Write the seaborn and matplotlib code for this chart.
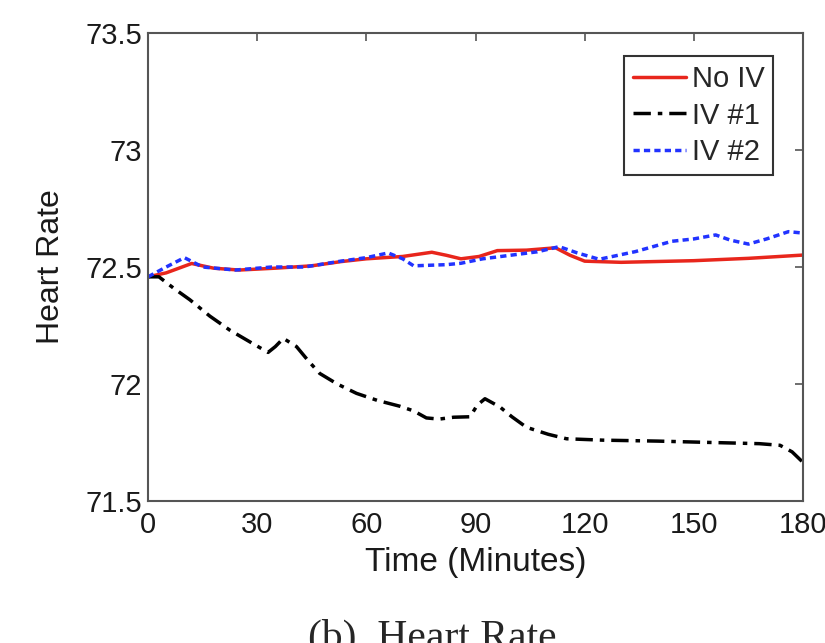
import matplotlib
matplotlib.use('Agg')
import matplotlib.pyplot as plt
import pandas as pd
import seaborn as sns

# values
t_noiv = [0, 5, 12, 18, 25, 35, 45, 53, 60, 70, 78, 82, 86, 91, 96, 104, 112, 116, 120, 130, 150, 165, 180]
hr_noiv = [72.458, 72.475, 72.515, 72.495, 72.487, 72.495, 72.505, 72.523, 72.535, 72.545, 72.563, 72.55,
           72.535, 72.545, 72.57, 72.572, 72.582, 72.55, 72.525, 72.52, 72.527, 72.537, 72.551]

t_iv1 = [0, 3, 7, 11.5, 17, 22.5, 28, 33, 35, 37.2, 40.8, 44, 47.2, 52, 57.3, 63, 69.2, 73, 76.5, 80, 84,
         88.5, 90.5, 92.6, 96.7, 100, 104, 110, 115, 125, 140, 155, 168, 173.7, 177, 180]
hr_iv1 = [72.458, 72.458, 72.41, 72.36, 72.29, 72.23, 72.18, 72.135, 72.16, 72.195, 72.16, 72.10, 72.045,
          72.0, 71.96, 71.93, 71.905, 71.885, 71.855, 71.85, 71.858, 71.86, 71.91, 71.937, 71.902, 71.86,
          71.815, 71.785, 71.766, 71.76, 71.756, 71.75, 71.745, 71.738, 71.71, 71.665]

t_iv2 = [0, 5, 10, 15, 24, 34, 43, 53, 60, 66, 70, 73, 82, 86, 92, 100, 107, 113, 118, 124, 134, 144,
         150, 156, 160, 165, 170, 176, 180]
hr_iv2 = [72.458, 72.50, 72.54, 72.50, 72.487, 72.50, 72.50, 72.525, 72.54, 72.56, 72.535, 72.505, 72.51,
          72.516, 72.535, 72.551, 72.565, 72.587, 72.56, 72.533, 72.566, 72.61, 72.62, 72.637, 72.615,
          72.598, 72.62, 72.651, 72.645]

xticks = [0, 30, 60, 90, 120, 150, 180]
yticks = [71.5, 72, 72.5, 73, 73.5]
ytick_labels = ['71.5', '72', '72.5', '73', '73.5']

sns.set_style('white')
plt.rcParams['font.family'] = ['Liberation Sans', 'DejaVu Sans']

fig = plt.figure(figsize=(8.25, 6.43), dpi=100)
ax = fig.add_axes([148/825, 1-501/643, (803-148)/825, (501-33)/643])

series = [
    ('No IV', t_noiv, hr_noiv, '#e8261c', '-'),
    ('IV #1', t_iv1, hr_iv1, 'black', (0, (5, 2, 1.3, 2))),
    ('IV #2', t_iv2, hr_iv2, '#2233ff', (0, (1.8, 1.2))),
]
for name, t, hr, col, ls in series:
    d = pd.DataFrame({'t': t, 'hr': hr})
    sns.lineplot(data=d, x='t', y='hr', ax=ax, color=col, linestyle=ls, linewidth=2.5,
                 label=name, sort=False, estimator=None)

ax.set_xlim(0, 180)
ax.set_ylim(71.5, 73.5)
ax.set_xticks(xticks)
ax.set_yticks(yticks)
ax.set_yticklabels(ytick_labels)
ax.tick_params(direction='in', length=6, width=1.2, color='#555555', labelsize=21,
               labelcolor='#1a1a1a', top=True, right=True)
ax.tick_params(axis='x', pad=7)
ax.tick_params(axis='y', pad=4)
for sp in ax.spines.values():
    sp.set_color('#555555')
    sp.set_linewidth(1.5)

ax.set_xlabel('Time (Minutes)', fontsize=24, labelpad=6, color='#1a1a1a')
ax.set_ylabel('Heart Rate', fontsize=23, labelpad=14, color='#1a1a1a')

leg = ax.legend(loc='upper right', bbox_to_anchor=((773-148)/655, (501-56)/468), borderaxespad=0,
                fontsize=21, handlelength=1.8, handletextpad=0.2, labelspacing=0.3,
                borderpad=0.3, fancybox=False, framealpha=1)
leg.get_frame().set_edgecolor('#333333')
leg.get_frame().set_linewidth(1.5)

fig.text(432/825, -0.009, '(b)  Heart Rate', ha='center', va='baseline', fontsize=30,
         family=['Liberation Serif', 'DejaVu Serif'])

fig.savefig('out.png', dpi=100)
